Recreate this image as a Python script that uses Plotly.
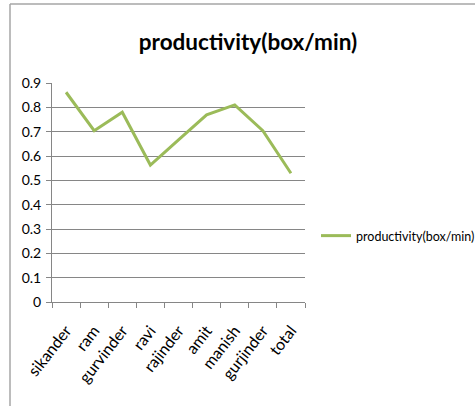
import plotly.graph_objects as go

# Productivity per worker, boxes handled per minute
workers = ["sikander", "ram", "gurvinder", "ravi", "rajinder", "amit", "manish", "gurjinder", "total"]
productivity = [0.862, 0.704, 0.78, 0.563, 0.666, 0.769, 0.81, 0.704, 0.529]
y_ticks = [0, 0.1, 0.2, 0.3, 0.4, 0.5, 0.6, 0.7, 0.8, 0.9]
series_name = "productivity(box/min)"

W, H = 475, 406
L, R, T, B = 52, 170, 83, 104
pw, ph = W - L - R, H - T - B

def px_x(p):
    return (p - L) / pw

def px_y(p):
    return (H - B - p) / ph

font = "Lato, sans-serif"

fig = go.Figure()
fig.add_trace(go.Scatter(
    x=workers, y=productivity, mode="lines", name=series_name,
    line=dict(color="#9bbb59", width=3),
))

fig.update_layout(
    width=W, height=H,
    margin=dict(l=L, r=R, t=T, b=B, autoexpand=False),
    paper_bgcolor="white", plot_bgcolor="white",
    font=dict(family=font, size=12, color="#000000"),
    title=dict(text="<b>productivity(box/min)</b>", x=px_x(248), xref="paper", xanchor="center",
               y=1 - 42 / H, yanchor="middle", font=dict(size=22.5, family=font, color="#000000")),
    showlegend=True,
    legend=dict(x=px_x(316), y=px_y(236), xanchor="left", yanchor="middle",
                font=dict(size=12.5, family=font), bgcolor="rgba(0,0,0,0)", itemwidth=30),
    xaxis=dict(type="category", range=[-0.5, len(workers) - 0.5], tickangle=-52,
               showgrid=False, showline=True, automargin=False,
               linecolor="#868686", linewidth=1, ticks="outside", ticklen=5, tickcolor="#868686",
               tickson="boundaries", ticklabelstandoff=12, tickfont=dict(size=16, family=font)),
    yaxis=dict(range=[0, 0.9], tickvals=y_ticks, ticktext=[f"{v:g}" for v in y_ticks],
               showgrid=True, gridcolor="#868686", gridwidth=1, showline=True, automargin=False,
               linecolor="#868686", linewidth=1, ticks="outside", ticklen=5, tickcolor="#868686",
               zeroline=False, ticklabelstandoff=2, tickfont=dict(size=14, family=font)),
)

# Chart frame (left and top edges)
fig.add_shape(type="line", xref="paper", yref="paper",
              x0=px_x(10), x1=px_x(10), y0=px_y(H + 5), y1=px_y(4),
              line=dict(color="#a6a6a6", width=1.5))
fig.add_shape(type="line", xref="paper", yref="paper",
              x0=px_x(10), x1=px_x(W + 5), y0=px_y(4), y1=px_y(4),
              line=dict(color="#a6a6a6", width=1.5))

fig.write_html("out.html")
